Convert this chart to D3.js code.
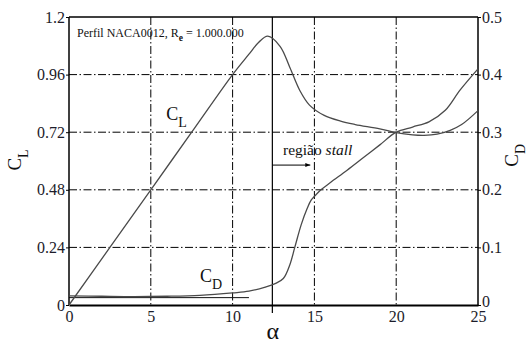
<!DOCTYPE html>
<html>
<head>
<meta charset="utf-8">
<script src="https://cdn.jsdelivr.net/npm/d3@7"></script>
<style>
  html, body { margin: 0; padding: 0; background: #fff; }
  svg text { font-family: "Liberation Serif", "Times New Roman", "DejaVu Serif", serif; }
</style>
</head>
<body>
<svg id="chart" width="528" height="345"></svg>
<script>
// Angle of attack (degrees) and lift coefficient
const clAlpha  = [0, 2.5, 5, 7.5, 10, 11, 11.6, 12.15, 12.9, 13.5, 14.1, 14.7, 15.6, 16.6, 17.5, 19, 20, 21, 21.7, 22.5, 23.3, 24, 25];
const clValues = [0, 0.24, 0.48, 0.72, 0.96, 1.045, 1.095, 1.12, 1.078, 0.99, 0.895, 0.833, 0.79, 0.766, 0.752, 0.734, 0.718, 0.709, 0.707, 0.712, 0.728, 0.752, 0.81];

// Angle of attack (degrees) and drag coefficient
const cdAlpha  = [0, 2, 4, 6, 8, 10, 11, 12, 12.6, 13.1, 13.5, 13.8, 14.2, 14.55, 14.8, 15.05, 15.4, 16, 17, 18, 19, 20, 21, 22, 23, 23.9, 25];
const cdValues = [0.016, 0.0152, 0.0146, 0.0152, 0.0168, 0.021, 0.024, 0.031, 0.037, 0.046, 0.07, 0.1, 0.14, 0.167, 0.182, 0.19, 0.2, 0.213, 0.234, 0.256, 0.278, 0.3, 0.309, 0.318, 0.338, 0.373, 0.41];

// Axis ticks
const alphaTicks = [0, 5, 10, 15, 20, 25];
const clTicks    = [0, 0.24, 0.48, 0.72, 0.96, 1.2];
const cdTicks    = [0, 0.1, 0.2, 0.3, 0.4, 0.5];
const gridAlpha  = [5, 10, 15, 20];
const gridCl     = [0.24, 0.48, 0.72, 0.96];

// Onset of stall
const stallAlpha = 12.43;

const svg = d3.select("#chart");
const W = 528, H = 345;
const m = { left: 69, right: 50, top: 17, bottom: 40 };
const SERIF = "'Liberation Serif', 'Times New Roman', 'DejaVu Serif', serif";

const x  = d3.scaleLinear().domain([0, 25]).range([m.left, W - m.right]);
const yL = d3.scaleLinear().domain([0, 1.2]).range([H - m.bottom, m.top]);
const yD = d3.scaleLinear().domain([0, 0.5]).range([H - m.bottom, m.top]);

const dash = "8,2.5,1.5,2.5";

// dash-dot grid
svg.append("g").selectAll("line").data(gridAlpha).join("line")
  .attr("x1", d => x(d)).attr("x2", d => x(d))
  .attr("y1", yL(1.2)).attr("y2", yL(0))
  .attr("stroke", "#000").attr("stroke-width", 1)
  .attr("stroke-dasharray", dash);
svg.append("g").selectAll("line").data(gridCl).join("line")
  .attr("x1", x(0)).attr("x2", x(25))
  .attr("y1", d => yL(d)).attr("y2", d => yL(d))
  .attr("stroke", "#000").attr("stroke-width", 1)
  .attr("stroke-dasharray", dash);

// stall marker
svg.append("line")
  .attr("x1", x(stallAlpha)).attr("x2", x(stallAlpha))
  .attr("y1", yL(1.2)).attr("y2", yL(0) + 8)
  .attr("stroke", "#000").attr("stroke-width", 1.2);

// low-drag reference line
svg.append("line")
  .attr("x1", x(0)).attr("x2", x(11))
  .attr("y1", yD(0.0128)).attr("y2", yD(0.0128))
  .attr("stroke", "#111").attr("stroke-width", 1);

// frame
svg.append("line").attr("x1", x(0)).attr("x2", x(25)).attr("y1", yL(1.2)).attr("y2", yL(1.2))
  .attr("stroke", "#000").attr("stroke-width", 1.3);

// axes
const fmt = d => String(+d.toFixed(2));
const axL = svg.append("g").attr("transform", `translate(${x(0)},0)`)
  .call(d3.axisLeft(yL).tickValues(clTicks).tickFormat(fmt).tickSize(3).tickPadding(1));
const axR = svg.append("g").attr("transform", `translate(${x(25)},0)`)
  .call(d3.axisRight(yD).tickValues(cdTicks).tickFormat(fmt).tickSize(3).tickPadding(1));
const axB = svg.append("g").attr("transform", `translate(0,${yL(0)})`)
  .call(d3.axisBottom(x).tickValues(alphaTicks).tickFormat(d3.format("d")).tickSize(0).tickPadding(6));

[axL, axR, axB].forEach(g => {
  g.attr("font-family", SERIF).attr("font-size", 16);
  g.selectAll("path.domain").attr("stroke", "#000").attr("stroke-width", 1.5);
  g.selectAll(".tick line").attr("stroke", "#000");
  g.selectAll("text").style("font-family", SERIF)
    .attr("font-size", 16).attr("fill", "#1c1c2a");
});
axB.select("path.domain").attr("stroke-width", 2.2);
axL.select("path.domain").attr("d", `M0,${yL(0)}V${yL(1.2)}`);
axR.select("path.domain").attr("d", `M0,${yL(0)}V${yL(1.2)}`);
// the right-hand zero sits just above the corner
axR.selectAll(".tick text").filter(d => d === 0).attr("dy", "0.1em");

// curves
const curve = d3.curveCatmullRom.alpha(0.5);
const clLine = d3.line().x(d => x(d[0])).y(d => yL(d[1])).curve(curve);
const cdLine = d3.line().x(d => x(d[0])).y(d => yD(d[1])).curve(curve);

svg.append("path").datum(d3.zip(clAlpha, clValues))
  .attr("d", clLine).attr("fill", "none")
  .attr("stroke", "#4a4a4a").attr("stroke-width", 1.3);
svg.append("path").datum(d3.zip(cdAlpha, cdValues))
  .attr("d", cdLine).attr("fill", "none")
  .attr("stroke", "#4a4a4a").attr("stroke-width", 1.3);

// title
const title = svg.append("text").attr("x", 77).attr("y", 37)
  .style("font-family", SERIF).attr("font-size", 12).attr("fill", "#111");
title.append("tspan").text("Perfil NACA0012, R");
title.append("tspan").attr("font-size", 9.5).attr("font-weight", "bold").attr("dy", 4).text("e");
title.append("tspan").attr("dy", -4).text(" = 1.000.000");

// curve labels
function subLabel(px, py, main, sub, size, subSize) {
  const t = svg.append("text").attr("x", px).attr("y", py)
    .style("font-family", SERIF).attr("font-size", size).attr("fill", "#111");
  t.append("tspan").text(main);
  t.append("tspan").attr("font-size", subSize).attr("dy", size * 0.38).text(sub);
  return t;
}
subLabel(x(5.95), yL(0.772), "C", "L", 18, 14);
subLabel(x(8.0), yD(0.04), "C", "D", 18, 14);

// axis titles
const tl = subLabel(0, 0, "C", "L", 19, 14);
tl.attr("transform", `translate(21,${yL(0.56)}) rotate(-90)`);
const tr = subLabel(0, 0, "C", "D", 19, 14);
tr.attr("transform", `translate(518,${yD(0.24)}) rotate(-90)`);

svg.append("text").attr("x", x(12.45)).attr("y", 339)
  .attr("text-anchor", "middle").style("font-family", SERIF)
  .attr("font-size", 24).attr("fill", "#111").text("α");

// stall region annotation
svg.append("defs").append("marker")
  .attr("id", "arrow").attr("viewBox", "0 0 10 10")
  .attr("refX", 10).attr("refY", 5)
  .attr("markerWidth", 7).attr("markerHeight", 5)
  .attr("orient", "auto")
  .append("path").attr("d", "M0,1L10,5L0,9Z").attr("fill", "#000");

svg.append("line")
  .attr("x1", x(stallAlpha)).attr("x2", x(14.75))
  .attr("y1", yL(0.583)).attr("y2", yL(0.583))
  .attr("stroke", "#000").attr("stroke-width", 1)
  .attr("marker-end", "url(#arrow)");

const st = svg.append("text").attr("x", x(13.08)).attr("y", yL(0.626))
  .style("font-family", SERIF).attr("font-size", 15.5).attr("fill", "#111");
st.append("tspan").text("região ");
st.append("tspan").attr("font-style", "italic").text("stall");
</script>
</body>
</html>
